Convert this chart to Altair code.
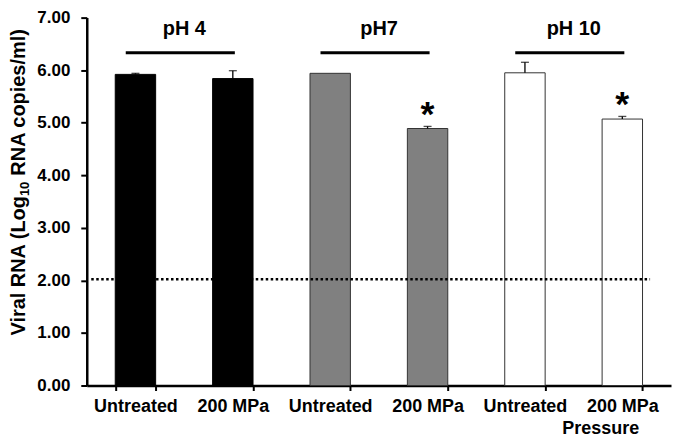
import altair as alt
import pandas as pd

# ---- data ----
groups = ["pH 4", "pH7", "pH 10"]
treatments = ["Untreated", "200 MPa", "Untreated", "200 MPa", "Untreated", "200 MPa"]
bar_group = [0, 0, 1, 1, 2, 2]
means = [5.92, 5.84, 5.94, 4.89, 5.95, 5.07]
errors = [0.02, 0.15, 0.0, 0.04, 0.20, 0.05]
signif = ["", "", "", "*", "", "*"]
fills = ["#000000", "#000000", "#808080", "#808080", "#ffffff", "#ffffff"]
strokes = ["#000000", "#000000", "#333333", "#333333", "#333333", "#333333"]
y_ticks = [0, 1, 2, 3, 4, 5, 6, 7]
group_line_y = 6.33
group_label_y = 6.66
detection_limit = 2.02
y_title_parts = ["Viral RNA (Log", "10", "RNA copies/ml)"]

FONT = "Liberation Sans"
W, H = 586, 369

keys = [f"{groups[g]}|{t}" for g, t in zip(bar_group, treatments)]
bars_df = pd.DataFrame({
    "key": keys,
    "mean": means,
    "err": errors,
    "top": [m + e for m, e in zip(means, errors)],
    "sig": signif,
    "fill": fills,
    "stroke": strokes,
})
grp_df = pd.DataFrame({
    "left": [keys[2 * i] for i in range(3)],
    "right": [keys[2 * i + 1] for i in range(3)],
    "label": groups,
    "ly": [group_line_y] * 3,
    "ty": [group_label_y] * 3,
})
lod_df = pd.DataFrame({"y": [detection_limit]})
title_df = pd.DataFrame({"t": y_title_parts})

x_scale = alt.Scale(domain=keys, paddingInner=0.585, paddingOuter=0.2925)
y_scale = alt.Scale(domain=[0, 7], nice=False)

x_axis = alt.Axis(
    title="Pressure", labelExpr="split(datum.label, '|')[1]", labelAngle=0,
    tickBand="extent", tickSize=5, tickWidth=2, domainWidth=2.5, domainColor="#000",
    tickColor="#000", labelFont=FONT, labelFontSize=18, labelFontWeight="bold",
    labelColor="#000", labelPadding=7, titleFont=FONT, titleFontSize=18,
    titleFontWeight="bold", titleColor="#000", titleX=515, titleY=48,
    titleBaseline="alphabetic", titleAlign="center",
)
y_axis = alt.Axis(
    title=None, values=y_ticks, format=".2f", grid=False,
    tickSize=6, tickWidth=2, domainWidth=2.5, domainColor="#000", tickColor="#000",
    labelFont=FONT, labelFontSize=17, labelFontWeight="bold", labelColor="#000",
    labelPadding=11,
)

base = alt.Chart(bars_df)

bars = base.mark_bar(strokeWidth=1).encode(
    x=alt.X("key:N", scale=x_scale, axis=x_axis, sort=keys),
    y=alt.Y("mean:Q", scale=y_scale, axis=y_axis),
    fill=alt.Fill("fill:N", scale=None),
    stroke=alt.Stroke("stroke:N", scale=None),
)

err_rule = base.transform_filter("datum.err > 0").mark_rule(
    color="#000", strokeWidth=1.3
).encode(x=alt.X("key:N", sort=keys), y="mean:Q", y2="top:Q")

err_cap = base.transform_filter("datum.err > 0").mark_tick(
    color="#000", orient="horizontal", size=8, thickness=1.3
).encode(x=alt.X("key:N", sort=keys), y="top:Q")

stars = base.transform_filter("datum.sig != ''").mark_text(
    font=FONT, fontSize=36, fontWeight="bold", color="#000",
    baseline="alphabetic", align="center", dy=0,
).encode(x=alt.X("key:N", sort=keys), y="top:Q", text="sig:N")

grp_lines = alt.Chart(grp_df).mark_rule(color="#000", strokeWidth=3).encode(
    x=alt.X("left:N", bandPosition=0.26),
    x2=alt.X2("right:N", bandPosition=0.55),
    y="ly:Q",
)

grp_text = alt.Chart(grp_df).mark_text(
    font=FONT, fontSize=20, fontWeight="bold", color="#000",
    baseline="alphabetic", align="center", dx=49,
).encode(x="left:N", y="ty:Q", text="label:N")

lod = alt.Chart(lod_df).mark_rule(
    color="#000", strokeWidth=2.5, strokeDash=[2.5, 2.5]
).encode(y="y:Q", x=alt.value(4.5), x2=alt.value(565))

# y-axis title drawn in three parts so that "10" can be a subscript
TX = -62          # baseline of rotated title (px from the y axis)
TJ = 179          # junction between "Log" and "10" (px from plot top)
SUB_W = 20.5      # width of the subscript "10" plus the following space
title_main1 = alt.Chart(title_df).transform_filter(
    f"datum.t == '{y_title_parts[0]}'").mark_text(
    font=FONT, fontSize=20, fontWeight="bold", color="#000", angle=270,
    align="right", baseline="alphabetic",
).encode(text="t:N", x=alt.value(TX), y=alt.value(TJ))
title_sub = alt.Chart(title_df).transform_filter(
    f"datum.t == '{y_title_parts[1]}'").mark_text(
    font=FONT, fontSize=13, fontWeight="bold", color="#000", angle=270,
    align="left", baseline="alphabetic",
).encode(text="t:N", x=alt.value(TX + 4), y=alt.value(TJ))
title_main2 = alt.Chart(title_df).transform_filter(
    f"datum.t == '{y_title_parts[2]}'").mark_text(
    font=FONT, fontSize=20, fontWeight="bold", color="#000", angle=270,
    align="left", baseline="alphabetic",
).encode(text="t:N", x=alt.value(TX), y=alt.value(TJ - SUB_W))

chart = alt.layer(
    bars, err_rule, err_cap, stars, grp_lines, grp_text, lod,
    title_main1, title_sub, title_main2,
).properties(
    width=W, height=H,
    padding={"left": 0, "top": 0, "right": 1, "bottom": 0},
).configure_view(stroke=None)

chart.save("out.html", embed_options={"renderer": "svg", "actions": False})
